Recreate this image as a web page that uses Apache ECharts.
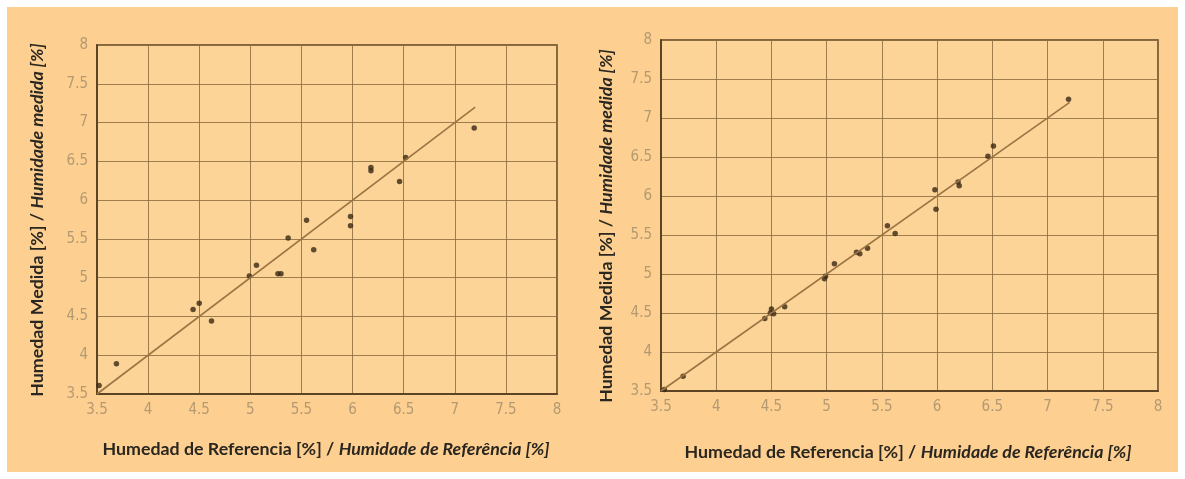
<!DOCTYPE html>
<html>
<head>
<meta charset="utf-8">
<script src="https://cdn.jsdelivr.net/npm/echarts@6/dist/echarts.min.js"></script>
<style>
html,body{margin:0;padding:0;background:#ffffff;}
#c{width:1185px;height:479px;}
</style>
</head>
<body>
<div id="c"></div>
<script>
// Axis range / ticks
const axisMin = 3.5;
const axisMax = 8;
const axisStep = 0.5;

// Left chart: reference vs measured humidity (before)
const leftRef = [3.52, 3.69, 4.44, 4.50, 4.62, 4.99, 5.06, 5.27, 5.30, 5.37, 5.55, 5.62, 5.98, 5.98, 6.18, 6.18, 6.46, 6.52, 7.19];
const leftMeas = [3.61, 3.89, 4.59, 4.67, 4.44, 5.02, 5.16, 5.05, 5.05, 5.51, 5.74, 5.36, 5.79, 5.67, 6.42, 6.38, 6.24, 6.55, 6.93];
const leftFitX = [3.5, 7.2];
const leftFitY = [3.5, 7.2];

// Right chart: reference vs measured humidity (after)
const rightRef = [3.53, 3.70, 4.44, 4.49, 4.50, 4.52, 4.62, 4.98, 4.99, 5.07, 5.27, 5.30, 5.37, 5.55, 5.62, 5.98, 5.99, 6.19, 6.20, 6.46, 6.51, 7.19];
const rightMeas = [3.52, 3.69, 4.43, 4.50, 4.55, 4.49, 4.58, 4.94, 4.97, 5.13, 5.28, 5.26, 5.33, 5.62, 5.52, 6.08, 5.83, 6.18, 6.13, 6.51, 6.64, 7.24];
const rightFitX = [3.5, 7.2];
const rightFitY = [3.5, 7.2];

// Texts
const xTitleMain = 'Humedad de Referencia [%] / ';
const xTitleItalic = 'Humidade de Referência [%]';
const yTitleMain = 'Humedad Medida [%] / ';
const yTitleItalic = 'Humidade medida [%]';

const zip = (a, b) => a.map((v, i) => [v, b[i]]);

const labelColor = '#b39a72';
const gridColor = '#8d6c3e';
const axisColor = '#5c4424';
const titleRich = {
  a: {fontFamily: 'Lato', fontWeight: 'bold', fontSize: 17.8, fill: '#2a2620', color: '#2a2620'},
  b: {fontFamily: 'Lato', fontWeight: 'bold', fontStyle: 'italic', fontSize: 17.8, fill: '#2a2620', color: '#2a2620'}
};

function axisDef(gi) {
  return {
    type: 'value', gridIndex: gi, min: axisMin, max: axisMax, interval: axisStep,
    axisLine: {show: true, onZero: false, lineStyle: {color: axisColor, width: 2}},
    axisTick: {show: false},
    axisLabel: {color: labelColor, fontFamily: 'Liberation Sans Narrow, DejaVu Sans Condensed, sans-serif', fontSize: 15, margin: 9},
    splitLine: {show: true, lineStyle: {color: gridColor, width: 1, opacity: 0.85}}
  };
}

const chart = echarts.init(document.getElementById('c'), null, {renderer: 'canvas'});
chart.setOption({
  backgroundColor: '#ffffff',
  animation: false,
  graphic: [
    {type: 'rect', z: -10, shape: {x: 7, y: 7, width: 1171, height: 465}, style: {fill: '#fdcf90'}},
    {type: 'text', x: 326, y: 449, style: {text: '{a|' + xTitleMain + '}{b|' + xTitleItalic + '}', rich: titleRich, align: 'center', verticalAlign: 'middle'}},
    {type: 'text', x: 908, y: 452, style: {text: '{a|' + xTitleMain + '}{b|' + xTitleItalic + '}', rich: titleRich, align: 'center', verticalAlign: 'middle'}},
    {type: 'text', x: 37, y: 220, rotation: Math.PI / 2, style: {text: '{a|' + yTitleMain + '}{b|' + yTitleItalic + '}', rich: titleRich, align: 'center', verticalAlign: 'middle'}},
    {type: 'text', x: 606, y: 226, rotation: Math.PI / 2, style: {text: '{a|' + yTitleMain + '}{b|' + yTitleItalic + '}', rich: titleRich, align: 'center', verticalAlign: 'middle'}}
  ],
  grid: [
    {left: 97, top: 45, width: 460, height: 349, show: true, backgroundColor: '#fdd497', borderColor: axisColor, borderWidth: 1.5},
    {left: 661, top: 40, width: 497, height: 351, show: true, backgroundColor: '#fdd497', borderColor: axisColor, borderWidth: 1.5}
  ],
  xAxis: [axisDef(0), axisDef(1)],
  yAxis: [axisDef(0), axisDef(1)],
  series: [
    {type: 'line', xAxisIndex: 0, yAxisIndex: 0, data: zip(leftFitX, leftFitY), showSymbol: false, lineStyle: {color: '#9c7444', width: 1.6}, silent: true},
    {type: 'scatter', xAxisIndex: 0, yAxisIndex: 0, data: zip(leftRef, leftMeas), symbol: 'circle', symbolSize: 5.5, itemStyle: {color: '#3a2814'}},
    {type: 'line', xAxisIndex: 1, yAxisIndex: 1, data: zip(rightFitX, rightFitY), showSymbol: false, lineStyle: {color: '#9c7444', width: 1.6}, silent: true},
    {type: 'scatter', xAxisIndex: 1, yAxisIndex: 1, data: zip(rightRef, rightMeas), symbol: 'circle', symbolSize: 5.5, itemStyle: {color: '#3a2814'}}
  ]
});
</script>
</body>
</html>
